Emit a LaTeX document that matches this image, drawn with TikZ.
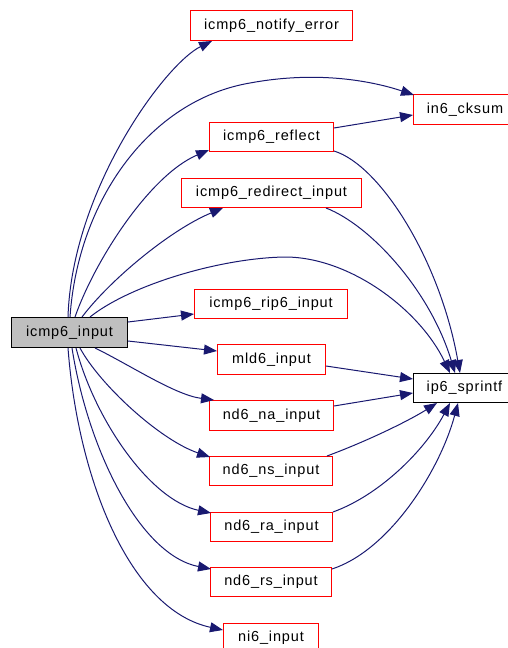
\documentclass[tikz,border=0pt]{standalone}
\usepackage{fontspec}
\setmainfont{Liberation Sans}
\newfontfamily\gvfont[LetterSpace=6]{Liberation Sans}
\usetikzlibrary{arrows.meta,calc}
\definecolor{edgeblue}{HTML}{191970}
\definecolor{rootgray}{HTML}{BFBFBF}
\begin{document}
\begin{tikzpicture}[x=1pt,y=-1pt,
  fn/.style={draw=red, line width=1pt, anchor=north west, inner sep=0pt,
             font={\gvfont\fontsize{14.5}{17}\selectfont}},
  root/.style={fn, draw=black, fill=rootgray},
  call/.style={draw=edgeblue, line width=1pt,
               -{Triangle[length=13pt,width=10pt,fill=edgeblue]}}
]
\useasboundingbox (0,0) rectangle (507,648);

% function boxes
\node[root, minimum width=116pt, minimum height=30pt] (input)    at (11,317)  {icmp6\_input};
\node[fn,   minimum width=162pt, minimum height=30pt] (notify)   at (190,10)  {icmp6\_notify\_error};
\node[fn,   minimum width=103pt, minimum height=30pt] (cksum)    at (413,94)  {in6\_cksum};
\node[fn,   minimum width=124pt, minimum height=29pt] (reflect)  at (209,122) {icmp6\_reflect};
\node[fn,   minimum width=180pt, minimum height=29pt] (redirect) at (181,178) {icmp6\_redirect\_input};
\node[fn,   minimum width=153pt, minimum height=29pt] (rip6)     at (194,289) {icmp6\_rip6\_input};
\node[fn,   minimum width=108pt, minimum height=30pt] (mld6)     at (217,344) {mld6\_input};
\node[fn, draw=black, minimum width=102pt, minimum height=29pt] (sprintf) at (413,373) {ip6\_sprintf};
\node[fn,   minimum width=124pt, minimum height=30pt] (na)       at (209,400) {nd6\_na\_input};
\node[fn,   minimum width=123pt, minimum height=29pt] (ns)       at (209,456) {nd6\_ns\_input};
\node[fn,   minimum width=122pt, minimum height=29pt] (ra)       at (210,512) {nd6\_ra\_input};
\node[fn,   minimum width=121pt, minimum height=29pt] (rs)       at (210,567) {nd6\_rs\_input};
\node[fn,   minimum width=95pt,  minimum height=29pt] (ni6)      at (223,623) {ni6\_input};

% calls leaving the top of icmp6_input
\draw[call] ($(input.north west)+(57,0)$) .. controls (72,190) and (165,64) .. ($(notify.south west)+(22,0)$);
\draw[call] ($(input.north west)+(59,0)$) .. controls (78,200) and (150,100) .. (250,83)
            .. controls (320,70) and (375,82) .. ($(cksum.north west)+(1,1)$);
\draw[call] ($(input.north west)+(64,0)$) .. controls (95,260) and (150,175) .. ($(reflect.south west)+(0,-2)$);
\draw[call] ($(input.north west)+(71,0)$) .. controls (110,280) and (170,230) .. ($(redirect.south west)+(42,0)$);
\draw[call] ($(input.north west)+(79,0)$) .. controls (130,285) and (220,258) .. (285,257)
            .. controls (350,257) and (420,310) .. ($(sprintf.north west)+(37,0)$);

% calls leaving the right side
\draw[call] ($(input.north east)+(0,5)$) -- ($(rip6.north west)+(0,25)$);
\draw[call] ($(input.north east)+(0,24)$) -- ($(mld6.north west)+(0,7)$);

% calls leaving the bottom
\draw[call] ($(input.south west)+(84,0)$) .. controls (130,365) and (175,395) .. ($(na.north west)+(5,0)$);
\draw[call] ($(input.south west)+(69,0)$) .. controls (100,385) and (160,440) .. ($(ns.north west)+(1,1)$);
\draw[call] ($(input.south west)+(65,0)$) .. controls (95,420) and (150,500) .. ($(ra.north west)+(1,1)$);
\draw[call] ($(input.south west)+(61,0)$) .. controls (88,450) and (140,555) .. ($(rs.north west)+(1,2)$);
\draw[call] ($(input.south west)+(57,0)$) .. controls (78,480) and (130,610) .. ($(ni6.north west)+(0,7)$);

% second-level calls
\draw[call] ($(reflect.north east)+(0,6)$) -- ($(cksum.north west)+(0,21)$);
\draw[call] ($(reflect.south east)+(0,-1)$) .. controls (380,165) and (440,260) .. ($(sprintf.north west)+(47,0)$);
\draw[call] ($(redirect.south east)+(-36,0)$) .. controls (370,225) and (430,290) .. ($(sprintf.north west)+(42,0)$);
\draw[call] ($(mld6.north east)+(0,22)$) -- ($(sprintf.north west)+(0,6)$);
\draw[call] ($(na.north east)+(0,6)$) -- ($(sprintf.north west)+(0,20)$);
\draw[call] ($(ns.north east)+(-6,0)$) .. controls (370,440) and (410,420) .. ($(sprintf.south west)+(24,0)$);
\draw[call] (ra.north east) .. controls (380,495) and (425,450) .. ($(sprintf.south west)+(37,0)$);
\draw[call] ($(rs.north east)+(0,2)$) .. controls (390,550) and (440,470) .. ($(sprintf.south west)+(45,0)$);
\end{tikzpicture}
\end{document}
